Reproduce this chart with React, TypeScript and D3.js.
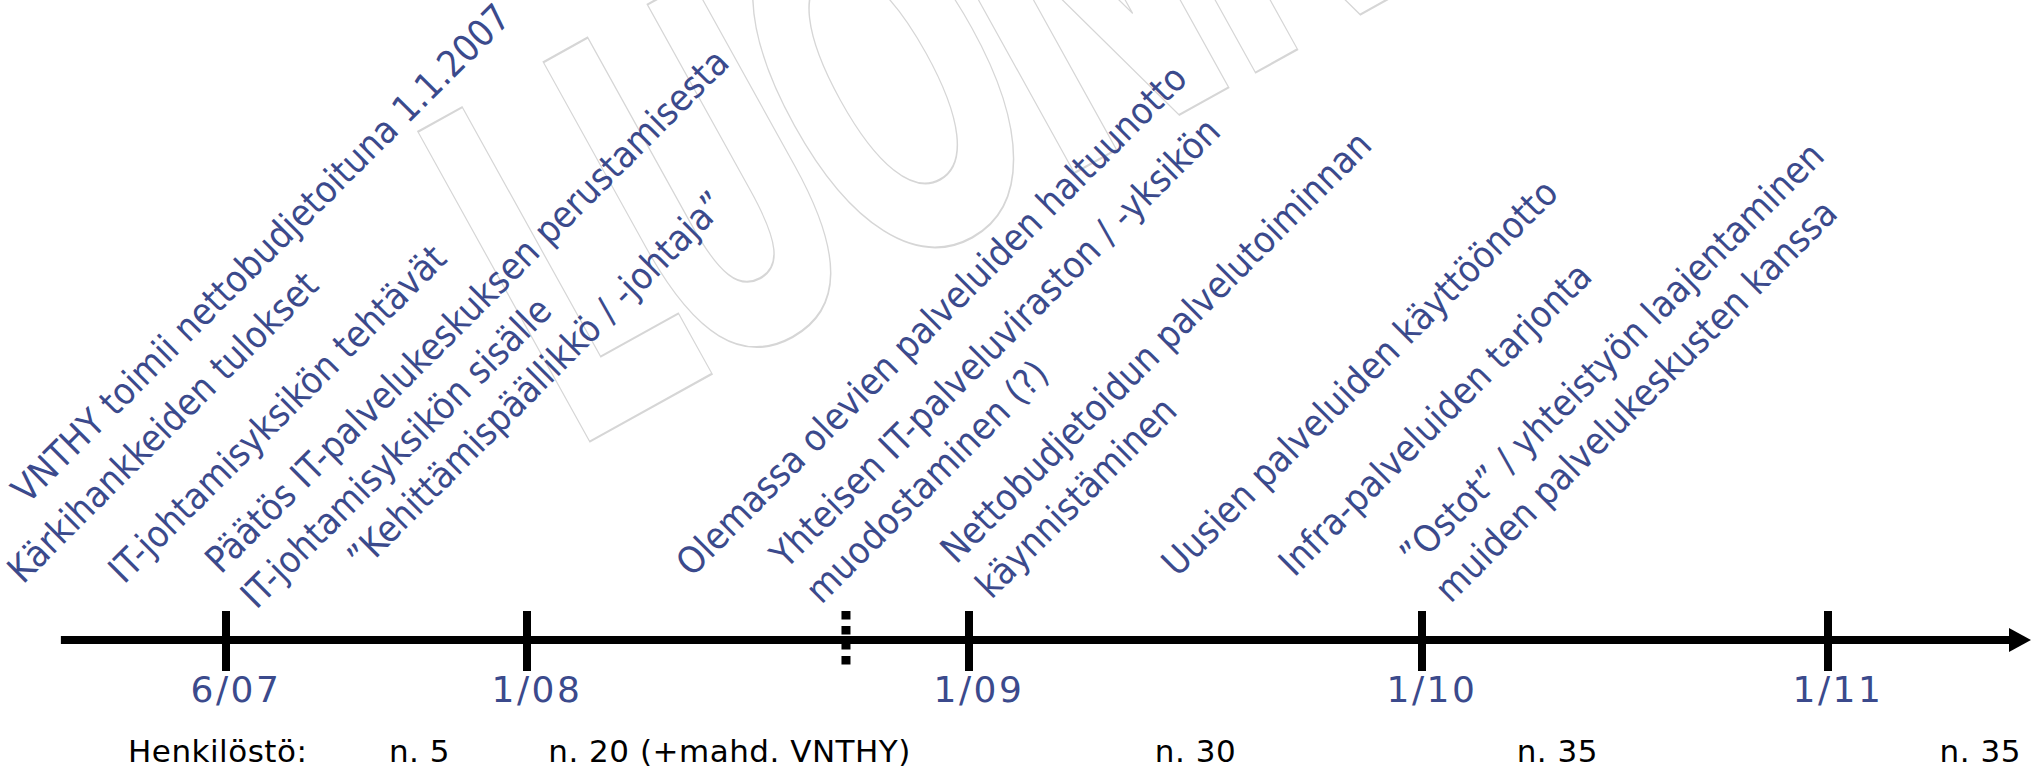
import React from "react";
import * as d3 from "d3";

// ---------- DATA ----------
const tickLabels = ["6/07", "1/08", "1/09", "1/10", "1/11"];
// months counted from January 2007
const tickMonths = [5, 12, 24, 36, 48];
const markerMonth = 20.66; // dotted "now" marker
const axisStartMonth = 1.16;
const axisEndMonth = 54;

const staffTitle = "Henkilöstö:";
const staffLabels = ["n. 5", "n. 20 (+mahd. VNTHY)", "n. 30", "n. 35", "n. 35"];
const staffMonths = [9.5, 17.5, 30, 40, 52.5];

const eventTexts = [
  ["VNTHY toimii nettobudjetoituna 1.1.2007"],
  ["Kärkihankkeiden tulokset"],
  ["IT-johtamisyksikön tehtävät"],
  ["Päätös IT-palvelukeskuksen perustamisesta", "IT-johtamisyksikön sisälle"],
  ["\u201DKehittämispäällikkö / -johtaja\u201D"],
  ["Olemassa olevien palveluiden haltuunotto"],
  ["Yhteisen IT-palveluviraston / -yksikön", "muodostaminen (?)"],
  ["Nettobudjetoidun palvelutoiminnan", "käynnistäminen"],
  ["Uusien palveluiden käyttöönotto"],
  ["Infra-palveluiden tarjonta"],
  ["\u201DOstot\u201D / yhteistyön laajentaminen", "muiden palvelukeskusten kanssa"],
];
const eventMonths = [0.1, 0.0, 2.35, 4.6, 7.9, 16.15, 18.7, 23.32, 29.2, 32.3, 35.5];

const watermarkText = "LUONNOS";

// ---------- LAYOUT ----------
const W = 2040;
const H = 769;
const axisY = 640;
const tickRange = [226, 527, 969, 1422, 1828];
const labelBaseY = 578;
const labelDx = 12;
const eventRise = [73, -7, -7, 3, 6, 0, 8, 13, 0, 0, 9];
const lineH = 50;
const blue = "#3b4a8c";
const eventFont = "'DejaVu Sans Condensed', 'DejaVu Sans', sans-serif";

export default function App() {
  const x = d3.scaleLinear().domain(tickMonths).range(tickRange);
  const x0 = x(axisStartMonth);
  const x1 = x(axisEndMonth);
  const arrowLen = 22;
  const arrowHalf = 12;
  const arrow = d3.line()([
    [x1 - arrowLen, axisY - arrowHalf],
    [x1, axisY],
    [x1 - arrowLen, axisY + arrowHalf],
  ]) + "Z";

  return (
    <svg
      width={W}
      height={H}
      viewBox={`0 0 ${W} ${H}`}
      style={{ position: "absolute", left: 0, top: 0, background: "#fff" }}
    >
      <rect width={W} height={H} fill="#fff" />
      {/* watermark */}
      <g transform="translate(589,442) rotate(-29) scale(1,1.8)">
        <text
          x={-24}
          y={0}
          fontFamily="'DejaVu Sans', sans-serif"
          fontWeight="bold"
          fontSize={270}
          letterSpacing={-19}
          fill="none"
          stroke="#d6d6d6"
          strokeWidth={1.2}
        >
          {watermarkText}
        </text>
      </g>

      {/* event labels */}
      {eventTexts.map((lines, i) => {
        const ax = x(eventMonths[i]) + labelDx;
        const ay = labelBaseY - eventRise[i];
        return (
          <text
            key={i}
            transform={`translate(${ax},${ay}) rotate(-45)`}
            fontFamily={eventFont}
            fontStretch="condensed"
            fontSize={37}
            fill={blue}
          >
            {lines.map((l, j) => (
              <tspan key={j} x={0} y={j * lineH}>
                {l}
              </tspan>
            ))}
          </text>
        );
      })}

      {/* axis */}
      <line x1={x0} x2={x1 - arrowLen + 1} y1={axisY} y2={axisY} stroke="#000" strokeWidth={8} />
      <path d={arrow} fill="#000" />
      {tickMonths.map((m, i) => (
        <line key={i} x1={x(m)} x2={x(m)} y1={axisY - 29} y2={axisY + 31} stroke="#000" strokeWidth={8} />
      ))}
      <line
        x1={x(markerMonth)}
        x2={x(markerMonth)}
        y1={axisY - 29}
        y2={axisY + 27}
        stroke="#000"
        strokeWidth={9}
        strokeDasharray="8.5 6.5"
      />
      {tickLabels.map((t, i) => (
        <text
          key={t}
          x={x(tickMonths[i]) + 10}
          y={702}
          textAnchor="middle"
          fontFamily="'DejaVu Sans', sans-serif"
          fontSize={36}
          letterSpacing={2.5}
          fill={blue}
        >
          {t}
        </text>
      ))}

      {/* staff row */}
      <text x={128} y={762} fontFamily="'DejaVu Sans', sans-serif" fontSize={31} letterSpacing={0.5} fill="#000">
        {staffTitle}
      </text>
      {staffLabels.map((s, i) => (
        <text
          key={i}
          x={x(staffMonths[i])}
          y={762}
          textAnchor="middle"
          fontFamily="'DejaVu Sans', sans-serif"
          fontSize={31}
          letterSpacing={0.5}
          fill="#000"
        >
          {s}
        </text>
      ))}
    </svg>
  );
}
